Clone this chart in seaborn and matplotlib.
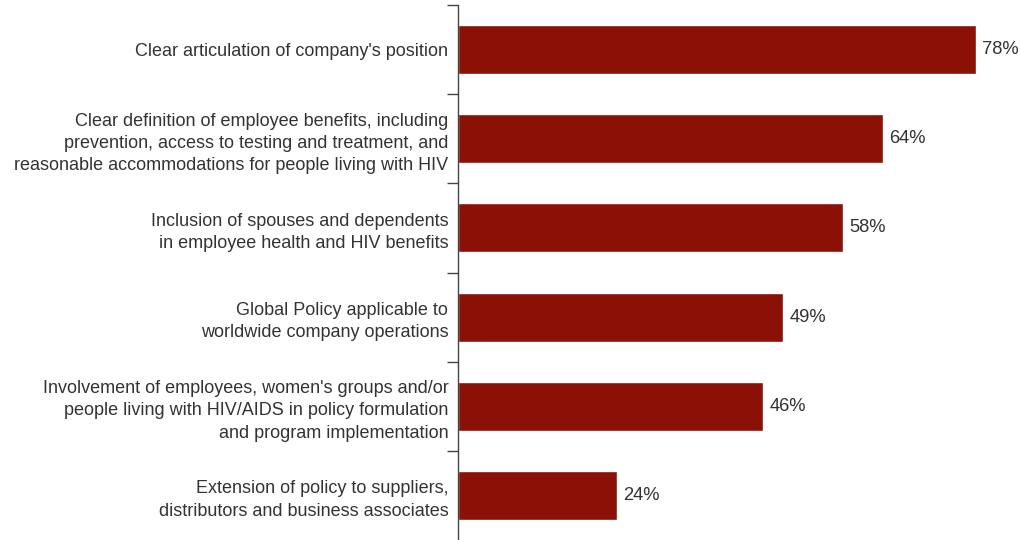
import matplotlib
matplotlib.use("Agg")
import matplotlib.pyplot as plt
import seaborn as sns
import pandas as pd

# policy elements and share of companies (%)
categories = [
    "Clear articulation of company's position",
    "Clear definition of employee benefits, including\nprevention, access to testing and treatment, and\nreasonable accommodations for people living with HIV",
    "Inclusion of spouses and dependents\nin employee health and HIV benefits",
    "Global Policy applicable to\nworldwide company operations",
    "Involvement of employees, women's groups and/or\npeople living with HIV/AIDS in policy formulation\nand program implementation",
    "Extension of policy to suppliers,\ndistributors and business associates",
]
values = [78, 64, 58, 49, 46, 24]

df = pd.DataFrame({"item": categories, "pct": values})

sns.set_theme(style="white")
plt.rcParams["font.family"] = ["Liberation Sans", "DejaVu Sans"]
text_col = "#333333"

fig = plt.figure(figsize=(10.21, 5.40), dpi=100)
ax = fig.add_axes([458 / 1021, 0.0, 563 / 1021, 535 / 540])

sns.barplot(data=df, x="pct", y="item", orient="h", color="#8b1006",
            saturation=1, width=0.55, ax=ax)

ax.set_xlim(0, 84.8)
ax.set_ylim(len(values) - 0.5, -0.5)

# value labels
for i, v in enumerate(values):
    ax.text(v + 0.9, i, f"{v}%", va="center", ha="left", fontsize=13.2, color=text_col)

# tick marks at boundaries, labels at centres
ax.set_yticks([i - 0.5 for i in range(len(values))])
ax.set_yticklabels([])
ax.set_yticks(range(len(values)), minor=True)
ax.set_yticklabels(categories, minor=True, fontsize=13, color=text_col,
                   multialignment="right")
for lab in ax.get_yticklabels(minor=True):
    lab.set_linespacing(1.4)
ax.tick_params(axis="y", which="major", length=8, width=1, color="#444444", direction="out", left=True)
ax.tick_params(axis="y", which="minor", length=0, pad=7)

ax.set_xticks([])
ax.set_xlabel("")
ax.set_ylabel("")
for s in ["top", "right", "bottom"]:
    ax.spines[s].set_visible(False)
ax.spines["left"].set_color("#444444")
ax.spines["left"].set_linewidth(1)
ax.set_facecolor("white")

fig.savefig("out.png", dpi=100)
